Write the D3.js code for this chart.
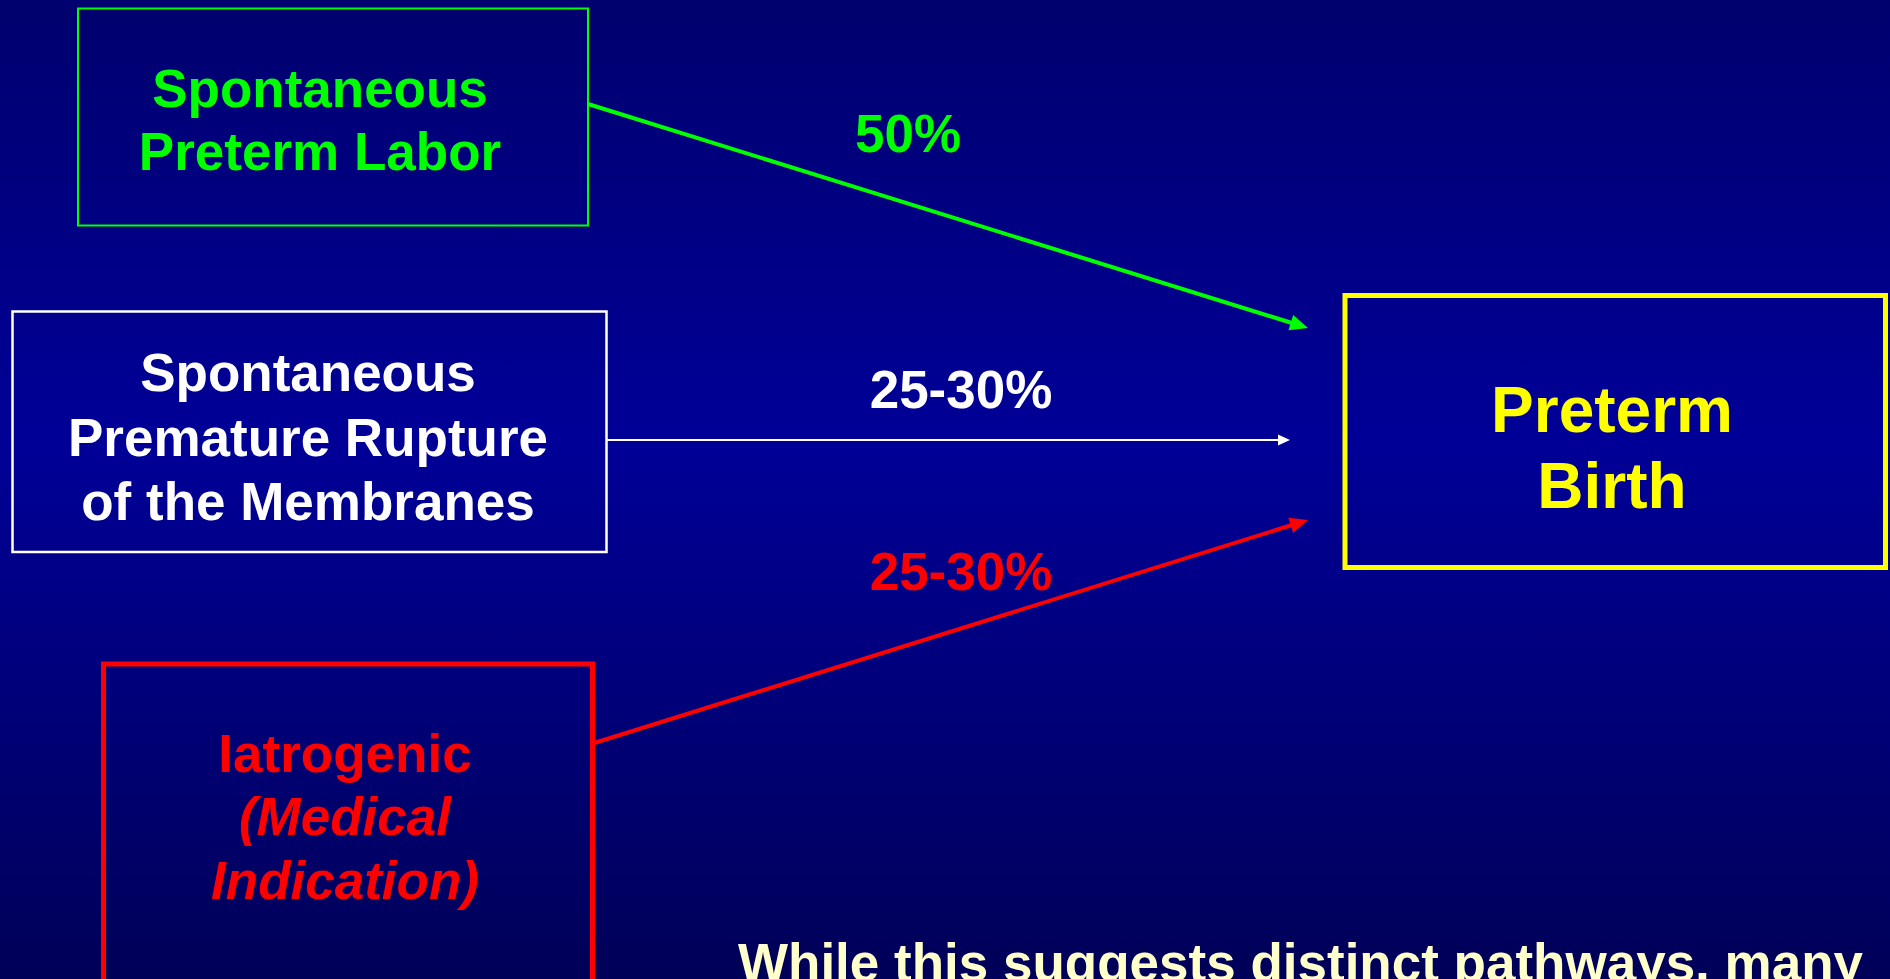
<!DOCTYPE html>
<html>
<head>
<meta charset="utf-8">
<script src="https://cdn.jsdelivr.net/npm/d3@7"></script>
<style>
  html, body { margin: 0; padding: 0; overflow: hidden; background: #000070; }
  svg { display: block; }
  text { font-family: "Liberation Sans", Arial, Helvetica, sans-serif; font-weight: bold; }
</style>
</head>
<body>
<svg id="chart" width="1890" height="979"></svg>
<script>
// Pathways leading to preterm birth
const pathwayNames = ["spontaneousLabor", "prom", "iatrogenic"];
const pathwayLines = [
  [{t: "Spontaneous"}, {t: "Preterm Labor"}],
  [{t: "Spontaneous"}, {t: "Premature Rupture"}, {t: "of the Membranes"}],
  [{t: "Iatrogenic"}, {t: "(Medical", italic: true}, {t: "Indication)", italic: true}]
];
const pathwayShares = ["50%", "25-30%", "25-30%"];
const pathwayColors = ["#00FF00", "#FFFFFF", "#FF0000"];

const outcomeLines = ["Preterm", "Birth"];
const outcomeColor = "#FFFF00";

const footnote = "While this suggests distinct pathways, many";
const footnoteColor = "#FFFFCC";

// Layout (pixel geometry of the diagram)
const W = 1890, H = 979;
const boxes = [
  {x: 78, y: 8.5, w: 510, h: 217, sw: 2, tx: 320, base: [107, 170], size: 53},
  {x: 12.5, y: 311.5, w: 594, h: 240.5, sw: 2.5, tx: 308, base: [391, 456, 520], size: 53},
  {x: 103.5, y: 664, w: 489, h: 400, sw: 5, tx: 345, base: [772, 835, 899], size: 53}
];
const outcomeBox = {x: 1345, y: 295.5, w: 540.5, h: 272, sw: 5, tx: 1612, base: [432, 508], size: 64};
const arrows = [
  {from: [588, 104], to: [1308, 328], sw: 4, head: [18, 8]},
  {from: [606, 440], to: [1290, 440], sw: 2, head: [12, 5.5]},
  {from: [591, 744], to: [1308, 520], sw: 4, head: [18, 8]}
];
const shareLabels = [
  {x: 908, y: 152},
  {x: 961, y: 408},
  {x: 961, y: 590}
];
const footPos = {x: 738, y: 981, size: 53};

const svg = d3.select("#chart");

// Background: vertical navy gradient, brightest a little above the middle
const defs = svg.append("defs");
const grad = defs.append("linearGradient")
  .attr("id", "bg").attr("x1", 0).attr("y1", 0).attr("x2", 0).attr("y2", 1);
[["0%", "#00006E"], ["45%", "#000098"], ["100%", "#000058"]].forEach(([o, c]) =>
  grad.append("stop").attr("offset", o).attr("stop-color", c));
svg.append("rect").attr("width", W).attr("height", H).attr("fill", "url(#bg)");

// Source boxes
const g = svg.append("g");
pathwayNames.forEach((name, i) => {
  const b = boxes[i];
  const grp = g.append("g").attr("class", name);
  grp.append("rect")
    .attr("x", b.x).attr("y", b.y).attr("width", b.w).attr("height", b.h)
    .attr("fill", "none").attr("stroke", pathwayColors[i]).attr("stroke-width", b.sw);
  grp.selectAll("text").data(pathwayLines[i]).join("text")
    .attr("x", b.tx).attr("y", (d, j) => b.base[j])
    .attr("text-anchor", "middle")
    .attr("font-size", b.size)
    .attr("font-style", d => d.italic ? "italic" : "normal")
    .attr("fill", pathwayColors[i])
    .text(d => d.t);
});

// Outcome box
svg.append("rect")
  .attr("x", outcomeBox.x).attr("y", outcomeBox.y)
  .attr("width", outcomeBox.w).attr("height", outcomeBox.h)
  .attr("fill", "none").attr("stroke", outcomeColor).attr("stroke-width", outcomeBox.sw);
svg.selectAll("text.outcome").data(outcomeLines).join("text")
  .attr("class", "outcome")
  .attr("x", outcomeBox.tx).attr("y", (d, j) => outcomeBox.base[j])
  .attr("text-anchor", "middle").attr("font-size", outcomeBox.size)
  .attr("fill", outcomeColor).text(d => d);

// Arrows: shaft + triangular head
const line = d3.line();
arrows.forEach((a, i) => {
  const [x0, y0] = a.from, [x1, y1] = a.to;
  const ang = Math.atan2(y1 - y0, x1 - x0);
  const [len, hw] = a.head;
  const bx = x1 - len * Math.cos(ang), by = y1 - len * Math.sin(ang);
  const nx = -Math.sin(ang), ny = Math.cos(ang);
  svg.append("path")
    .attr("d", line([[x0, y0], [bx + 2 * Math.cos(ang), by + 2 * Math.sin(ang)]]))
    .attr("stroke", pathwayColors[i]).attr("stroke-width", a.sw).attr("fill", "none");
  svg.append("path")
    .attr("d", line([[x1, y1], [bx + nx * hw, by + ny * hw], [bx - nx * hw, by - ny * hw]]) + "Z")
    .attr("fill", pathwayColors[i]);
});

// Share labels
svg.selectAll("text.share").data(pathwayShares).join("text")
  .attr("class", "share")
  .attr("x", (d, i) => shareLabels[i].x).attr("y", (d, i) => shareLabels[i].y)
  .attr("text-anchor", "middle").attr("font-size", 53)
  .attr("fill", (d, i) => pathwayColors[i]).text(d => d);

// Footnote (runs off the bottom edge)
svg.append("text")
  .attr("x", footPos.x).attr("y", footPos.y)
  .attr("font-size", footPos.size).attr("fill", footnoteColor)
  .text(footnote);
</script>
</body>
</html>
